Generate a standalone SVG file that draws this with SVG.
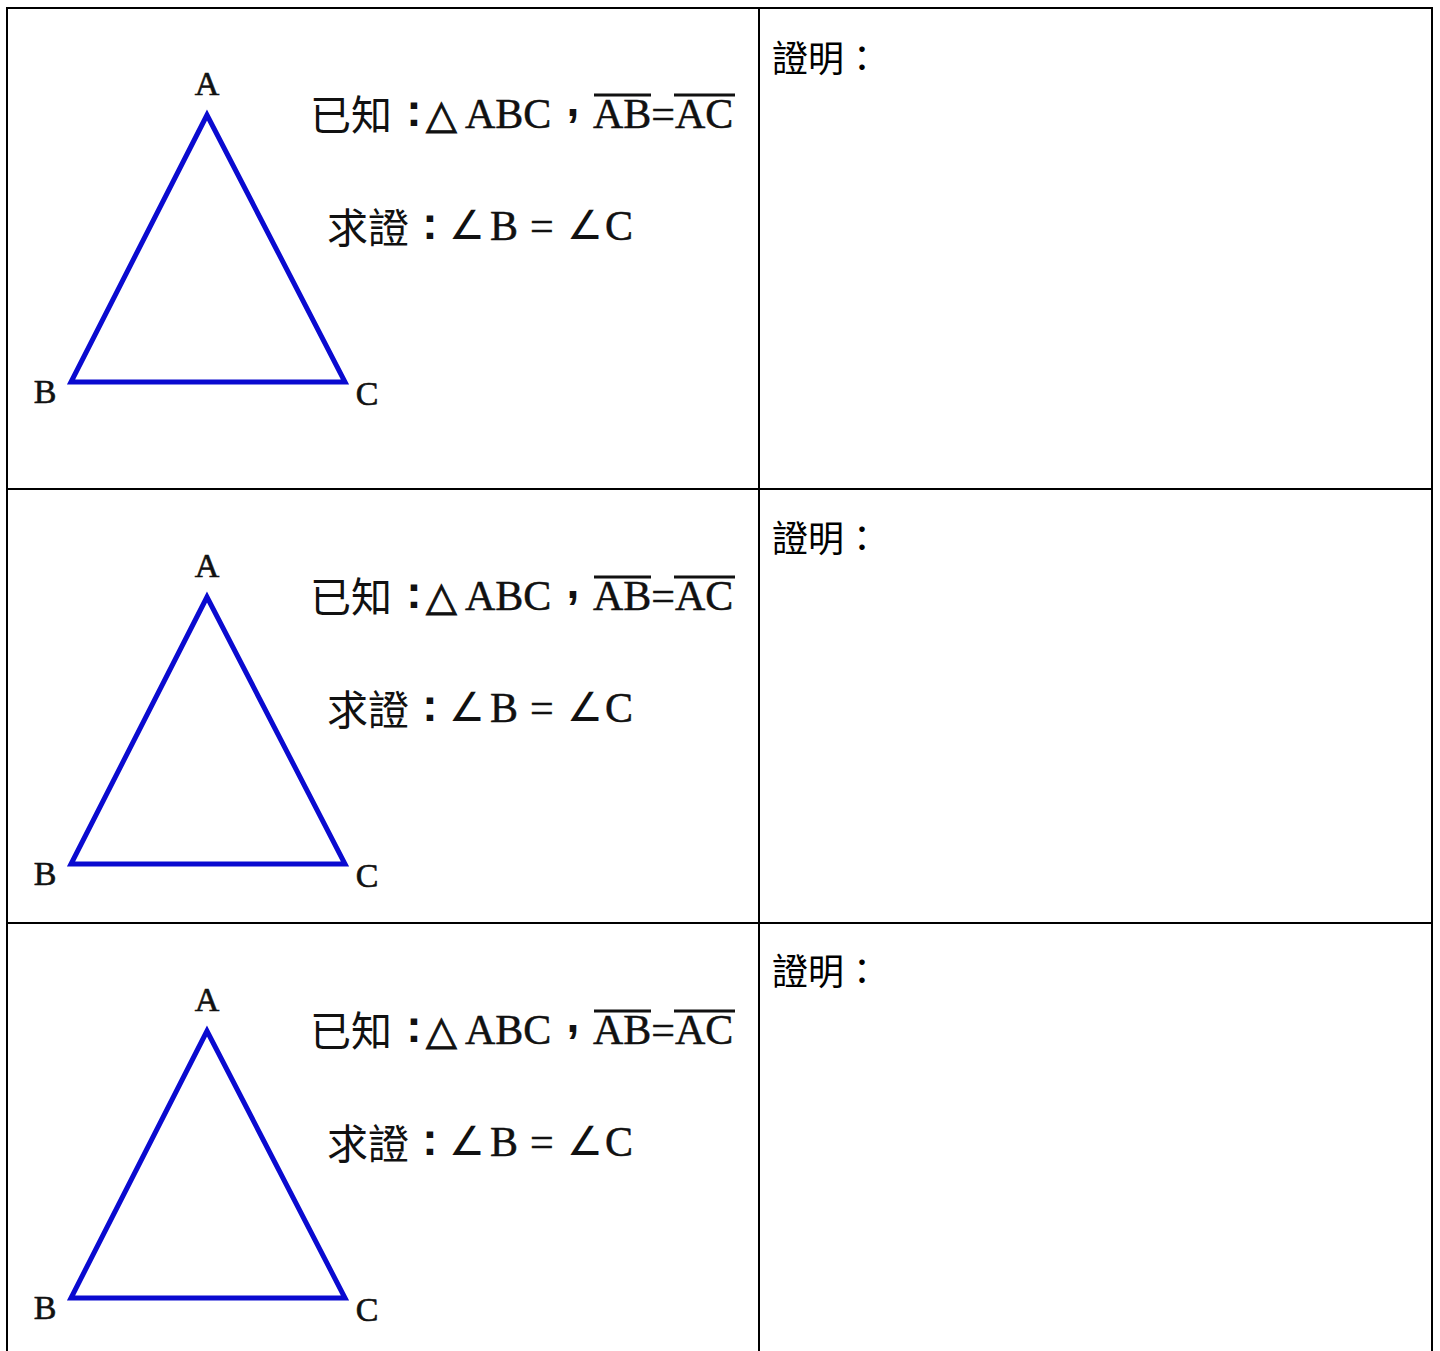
<svg xmlns="http://www.w3.org/2000/svg" width="1440" height="1351" viewBox="0 0 1440 1351">
<style>
.grid{stroke:#000;stroke-width:2;fill:none}
.tri{stroke:#0a0ad0;stroke-width:5;fill:none;stroke-linejoin:miter}
.lbl{font-family:"Liberation Serif","Noto Sans CJK TC",serif;font-size:34px;fill:#111;stroke:#111;stroke-width:0.6;text-anchor:middle}
.math{font-family:"Liberation Serif","Noto Sans CJK TC",serif;font-size:42px;fill:#111;stroke:#111;stroke-width:0.5}
.sym{font-family:"DejaVu Sans","Noto Sans CJK TC",sans-serif;fill:#111}
.pt{font-family:"Liberation Sans",sans-serif;font-weight:bold;font-size:46px;fill:#111;text-anchor:middle}
.cjk{font-family:"Noto Sans CJK TC",serif;font-size:41px;fill:#111}
.proof{font-family:"Noto Sans CJK TC",sans-serif;font-size:36px;fill:#000}
.ov{stroke:#111;stroke-width:3}
</style>
<defs>
<g id="cell">
<polygon class="tri" points="207,115 71,382 345,382"/>
<text class="lbl" x="207" y="95">A</text>
<text class="lbl" x="45" y="403">B</text>
<text class="lbl" x="367" y="405">C</text>
<text class="cjk" x="310" y="130">已知</text>
<text class="pt" x="414" y="126">:</text>
<text class="sym" x="426" y="128" font-size="40" stroke="#111" stroke-width="1">△</text>
<text class="math" x="465" y="128">ABC</text>
<text class="pt" x="573" y="116">,</text>
<text class="math" x="593" y="128">AB=AC</text>
<line class="ov" x1="594" y1="95" x2="651" y2="95"/>
<line class="ov" x1="674" y1="95" x2="735" y2="95"/>
<text class="cjk" x="327" y="243">求證</text>
<text class="pt" x="430" y="239">:</text>
<text class="sym" x="449" y="239" font-size="40">∠</text>
<text class="math" x="490" y="240" font-size="46">B</text>
<text class="math" x="530" y="240">=</text>
<text class="sym" x="567" y="239" font-size="40">∠</text>
<text class="math" x="605" y="240" font-size="46">C</text>
</g>
</defs>
<g id="grid">
<line class="grid" x1="7" y1="8" x2="1432" y2="8"/>
<line class="grid" x1="7" y1="489" x2="1432" y2="489"/>
<line class="grid" x1="7" y1="923" x2="1432" y2="923"/>
<line class="grid" x1="7" y1="7" x2="7" y2="1351"/>
<line class="grid" x1="759" y1="7" x2="759" y2="1351"/>
<line class="grid" x1="1432" y1="7" x2="1432" y2="1351"/>
</g>
<g id="row1">
<use href="#cell"/>
<text class="proof" x="772" y="72">證明：</text>
</g>
<g id="row2" transform="translate(0,482)">
<use href="#cell"/>
<text class="proof" x="772" y="70">證明：</text>
</g>
<g id="row3" transform="translate(0,916)">
<use href="#cell"/>
<text class="proof" x="772" y="69">證明：</text>
</g>
</svg>
